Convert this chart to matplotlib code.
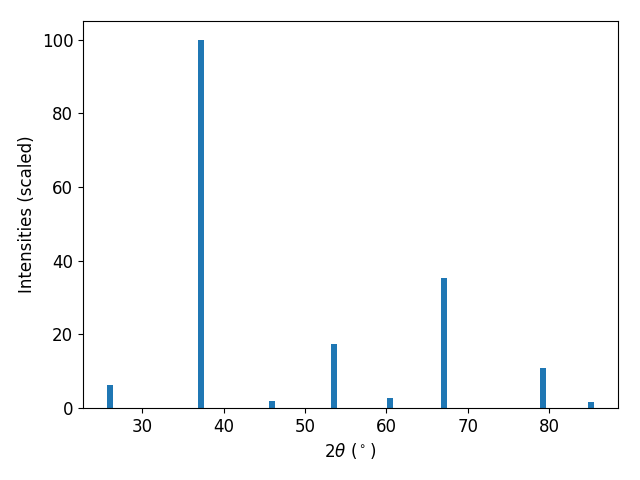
import matplotlib
matplotlib.use("Agg")
import matplotlib.pyplot as plt

# peak positions (2theta, degrees) and scaled intensities
two_theta = [26.1, 37.2, 46.0, 53.6, 60.5, 67.05, 79.2, 85.1]
intensity = [6.3, 100, 1.9, 17.4, 2.8, 35.3, 10.9, 1.5]

fig, ax = plt.subplots(figsize=(6.4, 4.8), dpi=100)
ax.bar(two_theta, intensity, width=0.75, color='#1f77b4')

ax.set_xlabel(r'2$\theta$ ($^\circ$)', fontsize=12)
ax.set_ylabel('Intensities (scaled)', fontsize=12)
ax.tick_params(labelsize=12)

fig.subplots_adjust(left=0.1297, right=0.9656, top=0.956, bottom=0.15)
fig.savefig('out.png')
